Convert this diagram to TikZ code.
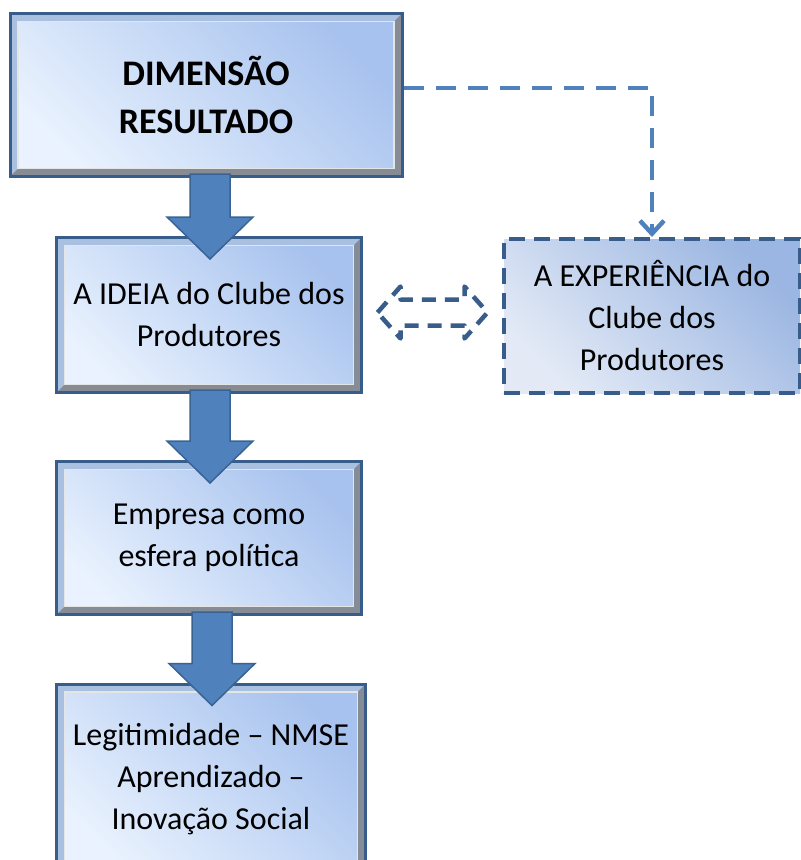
\documentclass[tikz,border=0pt]{standalone}
\usepackage{fontspec}
\setmainfont{Carlito}
\usetikzlibrary{calc,arrows.meta}
\definecolor{bordaazul}{HTML}{385D8A}
\definecolor{setaazul}{HTML}{4F81BD}
\definecolor{setaborda}{HTML}{3A6394}
\definecolor{fundoclaro}{HTML}{E9F2FE}
\definecolor{fundoescuro}{HTML}{A7C2EE}
\definecolor{expclaro}{HTML}{E3EAF6}
\definecolor{expescuro}{HTML}{9BB6E2}
\definecolor{chanfroclaro}{HTML}{A9C0E0}
\definecolor{chanfroescuro}{HTML}{868C95}
\begin{document}
\begin{tikzpicture}[x=1pt, y=-1pt,
    caixa/.style={rectangle, draw=bordaazul, line width=3pt,
        left color=fundoclaro, right color=fundoescuro, shading angle=135, align=center,
        font=\fontsize{32}{42}\selectfont,
        path picture={
            \fill[chanfroclaro] (path picture bounding box.south west) -- (path picture bounding box.north west) -- (path picture bounding box.north east) -- ([shift={(-8pt,-8pt)}]path picture bounding box.north east) -- ([shift={(8pt,-8pt)}]path picture bounding box.north west) -- ([shift={(8pt,8pt)}]path picture bounding box.south west) -- cycle;
            \fill[chanfroescuro] (path picture bounding box.south west) -- (path picture bounding box.south east) -- (path picture bounding box.north east) -- ([shift={(-8pt,-8pt)}]path picture bounding box.north east) -- ([shift={(-8pt,8pt)}]path picture bounding box.south east) -- ([shift={(8pt,8pt)}]path picture bounding box.south west) -- cycle;
            \draw[white!80!gray, line width=1.2pt] ([shift={(8pt,8pt)}]path picture bounding box.south west) rectangle ([shift={(-8pt,-8pt)}]path picture bounding box.north east);
        }},
    tracejada/.style={rectangle, draw=bordaazul, line width=4pt, dash pattern=on 16pt off 9pt,
        left color=expclaro, right color=expescuro, shading angle=135, align=center,
        font=\fontsize{32}{42}\selectfont},
    seta/.style={fill=setaazul, draw=setaborda, line width=1.5pt},
    liga/.style={draw=setaazul, line width=4.5pt, dash pattern=on 20pt off 12pt},
    setadupla/.style={draw=bordaazul, line width=4.5pt, dash pattern=on 14pt off 9pt, line join=round}]

    \useasboundingbox (0,0) rectangle (801,860);
    \clip (0,0) rectangle (801,860);

    \node[caixa, minimum width=392pt, minimum height=163pt, font=\fontsize{36}{48}\selectfont\bfseries] (dim) at (206,95) {DIMENSÃO\\RESULTADO};
    \node[caixa, minimum width=305pt, minimum height=155pt] (ideia) at (209,315) {A IDEIA do Clube dos\\Produtores};
    \node[caixa, minimum width=305pt, minimum height=153pt] (empresa) at (209,538) {Empresa como\\esfera política};
    \node[caixa, minimum width=309pt, minimum height=190pt] (legit) at (211,779) {Legitimidade – NMSE\\Aprendizado –\\Inovação Social};
    \node[tracejada, minimum width=296pt, minimum height=154pt] (exp) at (652,316) {A EXPERIÊNCIA do\\Clube dos\\Produtores};

    \foreach \a/\b in {dim/ideia, ideia/empresa, empresa/legit}
        \filldraw[seta] ($(\b.north |- \a.south)+(-19,-4)$) -- ($(\b.north |- \a.south)+(21,-4)$) -- ($(\b.north)+(21,-19)$) -- ($(\b.north)+(44,-19)$) -- ($(\b.north)+(1,23)$) -- ($(\b.north)+(-42,-19)$) -- ($(\b.north)+(-19,-19)$) -- cycle;

    \draw[liga, -{Straight Barb[length=13pt, width=24pt, line width=4.5pt]}] ($(dim.east)+(0,-7)$) -| (exp.north);

    \coordinate (troca) at ($(ideia.east)!0.5!(exp.west)+(0,-3)$);
    \draw[setadupla] ($(troca)+(-55,0)$) -- ++(23,-26) -- ++(0,13) -- ++(64,0) -- ++(0,-13) -- ++(23,26) -- ++(-23,26) -- ++(0,-13) -- ++(-64,0) -- ++(0,13) -- cycle;
\end{tikzpicture}
\end{document}
